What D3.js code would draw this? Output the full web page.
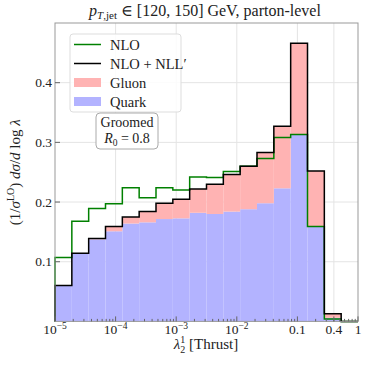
<html lang="en">
<head>
<meta charset="utf-8">
<title>Groomed thrust</title>
<script src="https://cdn.jsdelivr.net/npm/d3@7"></script>
<style>
    body { margin: 0; background: #fff; }
    text { font-family: "Liberation Serif", "DejaVu Serif", serif; fill: #222; }
    .grid line { stroke: #e4e4e4; stroke-width: 1; }
</style>
</head>
<body>
<svg width="366" height="366"></svg>
<script>
// bin edges (log spaced, 18 bins between 1e-5 and 1)
var binEdges = [1e-5, 1.896e-5, 3.594e-5, 6.813e-5, 1.292e-4, 2.448e-4, 4.642e-4, 8.799e-4,
    1.668e-3, 3.162e-3, 5.995e-3, 1.136e-2, 2.154e-2, 4.084e-2, 7.743e-2, 0.1468, 0.2783, 0.5275, 1];

var nlo = [0.107, 0.168, 0.189, 0.197, 0.224, 0.207, 0.224, 0.220, 0.242, 0.241,
    0.251, 0.260, 0.273, 0.308, 0.313, 0.159, 0.004, 0];
var nloNll = [0.060, 0.114, 0.139, 0.159, 0.175, 0.184, 0.198, 0.2045, 0.222, 0.2297,
    0.246, 0.260, 0.283, 0.327, 0.466, 0.252, 0.013, 0];
var quark = [0.060, 0.113, 0.1375, 0.151, 0.164, 0.166, 0.1715, 0.1727, 0.182, 0.180,
    0.184, 0.188, 0.198, 0.223, 0.313, 0.159, 0.006, 0];
var gluon = [0, 0.001, 0.0015, 0.008, 0.011, 0.018, 0.0265, 0.0318, 0.040, 0.0497,
    0.062, 0.072, 0.085, 0.104, 0.153, 0.093, 0.007, 0];

var xTicks = [1e-5, 1e-4, 1e-3, 1e-2, 0.1, 0.4, 1];
var xTickLabels = [["10", "\u22125"], ["10", "\u22124"], ["10", "\u22123"], ["10", "\u22122"], ["0.1"], ["0.4"], ["1"]];
var yTicks = [0.1, 0.2, 0.3, 0.4];

var svg = d3.select("svg"),
    margin = {top: 23, right: 8, bottom: 45, left: 55},
    width = 366 - margin.left - margin.right,
    height = 366 - margin.top - margin.bottom + 0.4,
    g = svg.append("g").attr("transform", "translate(" + margin.left + "," + margin.top + ")");

var x = d3.scaleLog().domain([1e-5, 1]).range([0, width]),
    y = d3.scaleLinear().domain([0, 0.5]).range([height, 0]);

var green = "#008000", pink = "#ffb3b3", blue = "#b3b3ff";

// grid
var grid = g.append("g").attr("class", "grid");
grid.selectAll(".gx").data(xTicks.slice(1, -1)).enter().append("line")
    .attr("x1", function(d) { return x(d); }).attr("x2", function(d) { return x(d); })
    .attr("y1", 0).attr("y2", height);
grid.selectAll(".gy").data(yTicks).enter().append("line")
    .attr("x1", 0).attr("x2", width)
    .attr("y1", function(d) { return y(d); }).attr("y2", function(d) { return y(d); });

// stacked fills
var bins = quark.map(function(q, i) {
    return {x0: binEdges[i], x1: binEdges[i + 1], q: q, gl: gluon[i]};
});
g.selectAll(".quark").data(bins).enter().append("rect")
    .attr("x", function(d) { return x(d.x0); })
    .attr("width", function(d) { return x(d.x1) - x(d.x0); })
    .attr("y", function(d) { return y(d.q); })
    .attr("height", function(d) { return y(0) - y(d.q); })
    .attr("fill", blue);
g.selectAll(".gluon").data(bins).enter().append("rect")
    .attr("x", function(d) { return x(d.x0); })
    .attr("width", function(d) { return x(d.x1) - x(d.x0); })
    .attr("y", function(d) { return y(d.q + d.gl); })
    .attr("height", function(d) { return y(d.q) - y(d.q + d.gl); })
    .attr("fill", pink);

// step outlines
function stepPoints(vals) {
    var pts = [[binEdges[0], 0]];
    vals.forEach(function(v, i) { pts.push([binEdges[i], v]); pts.push([binEdges[i + 1], v]); });
    pts.push([binEdges[binEdges.length - 1], 0]);
    return pts;
}
var line = d3.line()
    .x(function(d) { return x(d[0]); })
    .y(function(d) { return y(d[1]); });

g.append("path").attr("d", line(stepPoints(nlo)))
    .attr("fill", "none").attr("stroke", green).attr("stroke-width", 1.5);
g.append("path").attr("d", line(stepPoints(nloNll)))
    .attr("fill", "none").attr("stroke", "#000").attr("stroke-width", 1.5);

// frame
g.append("rect").attr("width", width).attr("height", height)
    .attr("fill", "none").attr("stroke", "#999").attr("stroke-width", 1);

// x ticks
var minor = [];
for (var e = -5; e < 0; e++) {
    for (var m = 2; m <= 9; m++) minor.push(m * Math.pow(10, e));
}
g.selectAll(".xminor").data(minor).enter().append("line")
    .attr("x1", function(d) { return x(d); }).attr("x2", function(d) { return x(d); })
    .attr("y1", height).attr("y2", height - 2.5).attr("stroke", "#666");
g.selectAll(".xmajor").data(xTicks).enter().append("line")
    .attr("x1", function(d) { return x(d); }).attr("x2", function(d) { return x(d); })
    .attr("y1", height).attr("y2", height - 5).attr("stroke", "#666");

var xl = g.selectAll(".xlab").data(xTicks).enter().append("text")
    .attr("x", function(d) { return x(d); })
    .attr("y", height + 13)
    .attr("text-anchor", "middle")
    .style("font-size", "13.5px");
xl.each(function(d, i) {
    var lab = xTickLabels[i], t = d3.select(this);
    t.append("tspan").text(lab[0]);
    if (lab[1]) t.append("tspan").attr("dy", -5).style("font-size", "9.5px").text(lab[1]);
});

// y ticks
g.selectAll(".ytick").data(yTicks).enter().append("line")
    .attr("x1", 0).attr("x2", 5)
    .attr("y1", function(d) { return y(d); }).attr("y2", function(d) { return y(d); })
    .attr("stroke", "#666");
g.selectAll(".ylab").data(yTicks).enter().append("text")
    .attr("x", -3).attr("y", function(d) { return y(d); })
    .attr("dy", "0.35em").attr("text-anchor", "end")
    .style("font-size", "13.5px")
    .text(function(d) { return d.toFixed(1); });

// title
var title = svg.append("text").attr("x", 205).attr("y", 16)
    .attr("text-anchor", "middle").style("font-size", "16px");
title.append("tspan").style("font-style", "italic").text("p");
title.append("tspan").attr("dy", 3).style("font-size", "11px").style("font-style", "italic").text("T");
title.append("tspan").style("font-size", "11px").text(",jet");
title.append("tspan").attr("dy", -3).text(" \u2208 [120, 150] GeV, parton-level");

// x label
var xlab = svg.append("text").attr("x", 206).attr("y", 349)
    .attr("text-anchor", "middle").style("font-size", "15px");
xlab.append("tspan").style("font-style", "italic").text("\u03bb");
xlab.append("tspan").attr("dy", -6).style("font-size", "10px").text("1");
xlab.append("tspan").attr("dx", -5).attr("dy", 10).style("font-size", "10px").text("2");
xlab.append("tspan").attr("dy", -4).text(" [Thrust]");

// y label
var ylab = svg.append("text")
    .attr("transform", "translate(20," + (margin.top + height / 2) + ") rotate(-90)")
    .attr("text-anchor", "middle").style("font-size", "15px");
ylab.append("tspan").text("(1/");
ylab.append("tspan").style("font-style", "italic").text("\u03c3");
ylab.append("tspan").attr("dy", -6).style("font-size", "10px").text("LO");
ylab.append("tspan").attr("dy", 6).text(") ");
ylab.append("tspan").style("font-style", "italic").text("d\u03c3");
ylab.append("tspan").text("/");
ylab.append("tspan").style("font-style", "italic").text("d");
ylab.append("tspan").text(" log ");
ylab.append("tspan").style("font-style", "italic").text("\u03bb");

// legend
var legendItems = [
    {label: "NLO", type: "line", color: green},
    {label: "NLO + NLL\u2032", type: "line", color: "#000"},
    {label: "Gluon", type: "patch", color: pink},
    {label: "Quark", type: "patch", color: blue}
];
var leg = svg.append("g").attr("transform", "translate(70,34)");
leg.append("rect").attr("width", 111).attr("height", 78).attr("rx", 3)
    .attr("fill", "#fff").attr("fill-opacity", 0.85).attr("stroke", "#ddd");
var li = leg.selectAll(".li").data(legendItems).enter().append("g")
    .attr("transform", function(d, i) { return "translate(0," + (10.5 + i * 19) + ")"; });
li.filter(function(d) { return d.type === "line"; }).append("line")
    .attr("x1", 4).attr("x2", 31).attr("stroke", function(d) { return d.color; })
    .attr("stroke-width", 1.5);
li.filter(function(d) { return d.type === "patch"; }).append("rect")
    .attr("x", 4).attr("y", -4.5).attr("width", 27).attr("height", 9)
    .attr("fill", function(d) { return d.color; });
li.append("text").attr("x", 40).attr("dy", "0.35em").style("font-size", "14.5px")
    .text(function(d) { return d.label; });

// groomed box
var gb = svg.append("g").attr("transform", "translate(96,113)");
gb.append("rect").attr("width", 62).attr("height", 36).attr("rx", 4)
    .attr("fill", "#fff").attr("stroke", "#aaa");
gb.append("text").attr("x", 31).attr("y", 14).attr("text-anchor", "middle")
    .style("font-size", "14px").text("Groomed");
var r0 = gb.append("text").attr("x", 31).attr("y", 30).attr("text-anchor", "middle")
    .style("font-size", "14px");
r0.append("tspan").style("font-style", "italic").text("R");
r0.append("tspan").attr("dy", 3).style("font-size", "9.5px").text("0");
r0.append("tspan").attr("dy", -3).text(" = 0.8");
</script>
</body>
</html>
